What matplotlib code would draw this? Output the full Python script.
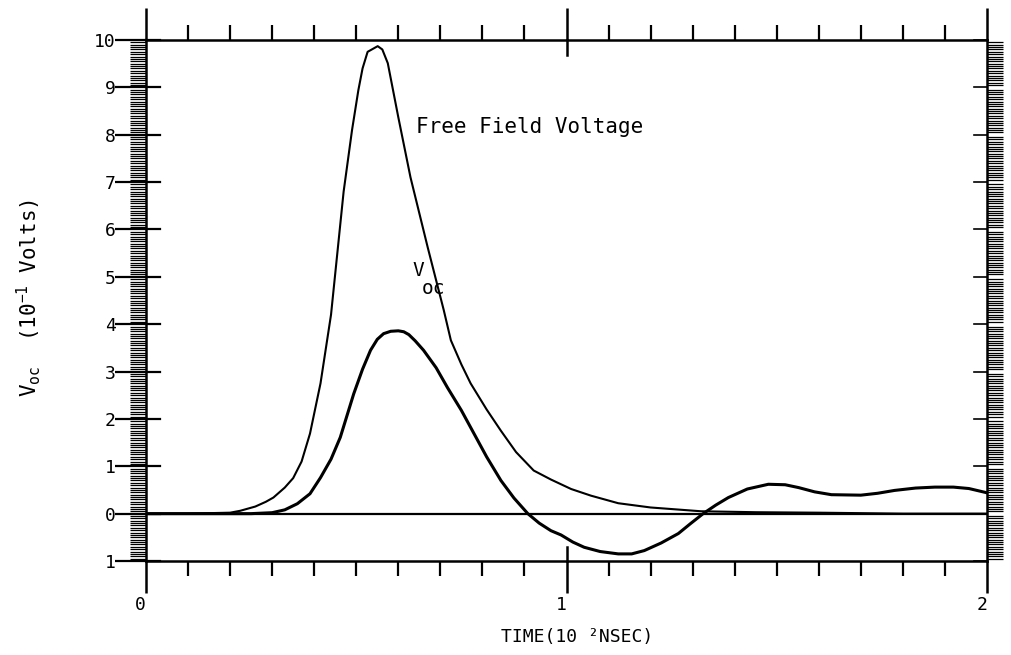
import numpy as np
import matplotlib
matplotlib.use('Agg')
import matplotlib.pyplot as plt
import matplotlib.transforms as mtransforms

plt.rcParams.update({
    'font.family': 'DejaVu Sans Mono',
    'mathtext.default': 'regular',
    'axes.linewidth': 1.8,
})

# free field voltage (10^-1 V) vs time (10^2 ns)
ff_time = [0.0, 0.1, 0.2, 0.224, 0.26, 0.285, 0.303, 0.33, 0.35, 0.37, 0.39,
           0.415, 0.44, 0.47, 0.49, 0.505, 0.515, 0.527, 0.551, 0.562, 0.575,
           0.60, 0.629, 0.67, 0.708, 0.725, 0.75, 0.772, 0.81, 0.844, 0.88,
           0.922, 0.963, 1.011, 1.058, 1.123, 1.2, 1.32, 1.45, 1.6, 1.8, 2.0]
ff_volt = [0.0, 0.0, 0.02, 0.06, 0.15, 0.25, 0.34, 0.55, 0.75, 1.1, 1.69,
           2.75, 4.2, 6.8, 8.1, 8.94, 9.4, 9.75, 9.87, 9.8, 9.51,
           8.37, 7.1, 5.62, 4.3, 3.66, 3.15, 2.75, 2.2, 1.75, 1.3,
           0.91, 0.72, 0.52, 0.38, 0.22, 0.13, 0.05, 0.03, 0.02, 0.0, 0.0]

# open circuit voltage
voc_time = [0.0, 0.2, 0.25, 0.30, 0.33, 0.36, 0.39, 0.415, 0.44, 0.462, 0.494,
            0.515, 0.534, 0.55, 0.565, 0.582, 0.60, 0.613, 0.625, 0.64, 0.66,
            0.69, 0.717, 0.75, 0.78, 0.81, 0.844, 0.875, 0.908, 0.935, 0.963,
            0.987, 1.015, 1.042, 1.08, 1.123, 1.155, 1.185, 1.225, 1.266, 1.295,
            1.325, 1.355, 1.385, 1.43, 1.48, 1.52, 1.552, 1.59, 1.63, 1.70,
            1.74, 1.78, 1.83, 1.876, 1.92, 1.957, 2.0]
voc_volt = [0.0, 0.0, 0.0, 0.02, 0.08, 0.21, 0.42, 0.76, 1.15, 1.61, 2.53,
            3.05, 3.45, 3.68, 3.8, 3.85, 3.86, 3.84, 3.78, 3.65, 3.45,
            3.08, 2.66, 2.18, 1.69, 1.2, 0.70, 0.33, 0.0, -0.2, -0.36,
            -0.45, -0.6, -0.71, -0.80, -0.85, -0.85, -0.78, -0.62, -0.42, -0.21,
            0.0, 0.18, 0.34, 0.52, 0.62, 0.61, 0.55, 0.46, 0.40, 0.39,
            0.43, 0.49, 0.54, 0.56, 0.56, 0.53, 0.44]

y_major = list(range(-1, 11))
y_labels = ['1', '0', '1', '2', '3', '4', '5', '6', '7', '8', '9', '10']
x_major = [0, 1, 2]
x_labels = ['0', '1', '2']

fig = plt.figure(figsize=(10.11, 6.55), dpi=100)
ax = fig.add_axes([146 / 1011, 94 / 655, 841 / 1011, 521 / 655])

ax.plot(ff_time, ff_volt, color='black', lw=1.5)
ax.plot(voc_time, voc_volt, color='black', lw=2.2)
ax.axhline(0, color='black', lw=1.6)

ax.set_xlim(0, 2)
ax.set_ylim(-1, 10)

# x ticks: top and bottom, minor every 0.1
ax.set_xticks(x_major)
ax.set_xticklabels(x_labels, ha='right')
ax.set_xticks(np.arange(0, 2.01, 0.1), minor=True)
ax.tick_params(axis='x', which='major', top=True, bottom=True, direction='out',
               length=23, width=1.8, labelsize=13, pad=2)
ax.tick_params(axis='x', which='minor', top=True, bottom=True, direction='out',
               length=11, width=1.6)

# y ticks: long major on left, dense ruler minors on both sides
ax.set_yticks(y_major)
ax.set_yticklabels(y_labels)
ax.set_yticks(np.arange(-1, 10.001, 0.05), minor=True)
ax.tick_params(axis='y', which='major', left=True, right=False, direction='out',
               length=22, width=1.6, labelsize=13, pad=0)
ax.tick_params(axis='y', which='minor', left=True, right=True, direction='out',
               length=11.5, width=0.9)

# inner stubs for the integer ticks
ymix = mtransforms.blended_transform_factory(ax.transAxes, ax.transData)
for yv in y_major:
    ax.plot([0, 14 / 841], [yv, yv], transform=ymix, color='black', lw=1.6, clip_on=False)
    ax.plot([1 - 13 / 841, 1], [yv, yv], transform=ymix, color='black', lw=1.2, clip_on=False)
xmix = mtransforms.blended_transform_factory(ax.transData, ax.transAxes)
ax.plot([1, 1], [1, 1 - 15 / 521], transform=xmix, color='black', lw=1.8, clip_on=False)
ax.plot([1, 1], [0, 14 / 521], transform=xmix, color='black', lw=1.8, clip_on=False)

ax.text(0.641, 8.16, 'Free Field Voltage', fontsize=15, va='center', ha='left')
ax.text(0.634, 5.14, 'V', fontsize=14, va='center', ha='left')
ax.text(0.656, 4.76, 'oc', fontsize=14, va='center', ha='left')

ax.set_ylabel(r'V$_{oc}$  (10$^{-1}$ Volts)', fontsize=15)
ax.yaxis.set_label_coords(-0.1225, 0.505)
ax.set_xlabel('TIME(10 \u00b2NSEC)', fontsize=13)
ax.xaxis.set_label_coords(0.5125, -0.128)

fig.savefig('out.png', dpi=100)
